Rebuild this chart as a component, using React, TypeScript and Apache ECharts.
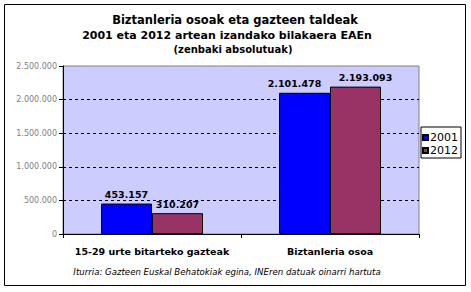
import React, { useEffect, useRef } from "react";
import * as echarts from "echarts";

const categories = ["15-29 urte bitarteko gazteak", "Biztanleria osoa"];
const values2001 = [453157, 2101478];
const values2012 = [310207, 2193093];
const seriesNames = ["2001", "2012"];
const titleLines = [
  "Biztanleria osoak eta gazteen taldeak",
  "2001 eta 2012 artean izandako bilakaera EAEn",
  "(zenbaki absolutuak)",
];
const footnote = "Iturria: Gazteen Euskal Behatokiak egina, INEren datuak oinarri hartuta";

const fmt = (v: number) => String(Math.round(v)).replace(/\B(?=(\d{3})+(?!\d))/g, ".");

const FONT = "DejaVu Sans";

export default function App() {
  const ref = useRef<HTMLDivElement>(null);
  useEffect(() => {
    if (!ref.current) return;
    const chart = echarts.init(ref.current, null, { renderer: "svg" });
    const labelCfg = {
      show: true,
      position: "top" as const,
      distance: 4,
      color: "#000",
      fontFamily: FONT,
      fontWeight: "bold" as const,
      fontSize: 9.5,
      formatter: (p: any) => fmt(p.value),
    };
    // Excel nudged the labels of the second category apart
    const labelOffsets2001 = [[0, 0], [-10, 0]];
    const labelOffsets2012 = [[0, 0], [10, 0]];
    chart.setOption({
      animation: false,
      backgroundColor: "#fff",
      textStyle: { fontFamily: FONT },
      grid: {
        left: 63,
        top: 66,
        width: 356,
        height: 168,
        show: true,
        backgroundColor: "#CCCCFF",
        borderColor: "#808080",
        borderWidth: 1,
        containLabel: false,
      },
      legend: {
        orient: "vertical",
        left: 421,
        top: 127,
        data: seriesNames,
        icon: "rect",
        itemWidth: 5,
        itemHeight: 5,
        itemGap: 2,
        padding: [5, 3, 2, 1],
        borderColor: "#000",
        borderWidth: 1,
        backgroundColor: "#fff",
        textStyle: { fontFamily: FONT, fontSize: 11, color: "#000", padding: [0, 0, 0, -3] },
      },
      xAxis: {
        type: "category",
        data: categories,
        axisLine: { show: true, lineStyle: { color: "#000", width: 1 } },
        axisTick: { show: true, alignWithLabel: false, length: 4, lineStyle: { color: "#000" } },
        axisLabel: {
          interval: 0,
          color: "#000",
          fontFamily: FONT,
          fontWeight: "bold",
          fontSize: 9.5,
          margin: 12,
        },
        splitLine: { show: false },
      },
      yAxis: {
        type: "value",
        min: 0,
        max: 2500000,
        interval: 500000,
        axisLine: { show: true, lineStyle: { color: "#000", width: 1 } },
        axisTick: { show: true, length: 4, lineStyle: { color: "#000" } },
        axisLabel: {
          color: "#808080",
          fontFamily: FONT,
          fontSize: 8,
          margin: 6,
          formatter: (v: number) => fmt(v),
        },
        splitLine: {
          show: true,
          lineStyle: {
            color: ["rgba(0,0,0,0)", "#000", "#000", "#000", "#000", "rgba(0,0,0,0)"],
            type: [3, 3],
            width: 1,
          },
        },
      },
      series: [
        {
          name: seriesNames[0],
          type: "bar",
          data: values2001.map((v, i) => ({ value: v, label: { offset: labelOffsets2001[i] } })),
          barWidth: 51,
          barGap: "0%",
          itemStyle: { color: "#0000FF", borderColor: "#000", borderWidth: 1 },
          label: labelCfg,
        },
        {
          name: seriesNames[1],
          type: "bar",
          data: values2012.map((v, i) => ({ value: v, label: { offset: labelOffsets2012[i] } })),
          barWidth: 51,
          barGap: "0%",
          itemStyle: { color: "#993366", borderColor: "#000", borderWidth: 1 },
          label: labelCfg,
        },
      ],
      graphic: [
        {
          type: "rect",
          shape: { x: 4.5, y: 4.5, width: 461, height: 281 },
          style: { fill: "none", stroke: "#000", lineWidth: 1 },
          silent: true,
        },
        {
          type: "text",
          x: 235,
          y: 20,
          style: {
            text: titleLines[0],
            align: "center",
            verticalAlign: "middle",
            font: `bold 11.5px "${FONT}"`,
            fill: "#000",
          },
        },
        {
          type: "text",
          x: 227,
          y: 35,
          style: {
            text: titleLines[1],
            align: "center",
            verticalAlign: "middle",
            font: `bold 11px "${FONT}"`,
            fill: "#000",
          },
        },
        {
          type: "text",
          x: 233,
          y: 49,
          style: {
            text: titleLines[2],
            align: "center",
            verticalAlign: "middle",
            font: `bold 10px "${FONT}"`,
            fill: "#000",
          },
        },
        {
          type: "text",
          x: 227,
          y: 272,
          style: {
            text: footnote,
            align: "center",
            verticalAlign: "middle",
            font: `italic 8.6px "${FONT}"`,
            fill: "#000",
          },
        },
      ],
    });
    return () => chart.dispose();
  }, []);
  return (
    <div
      ref={ref}
      style={{ position: "fixed", left: 0, top: 0, width: 471, height: 292 }}
    />
  );
}
